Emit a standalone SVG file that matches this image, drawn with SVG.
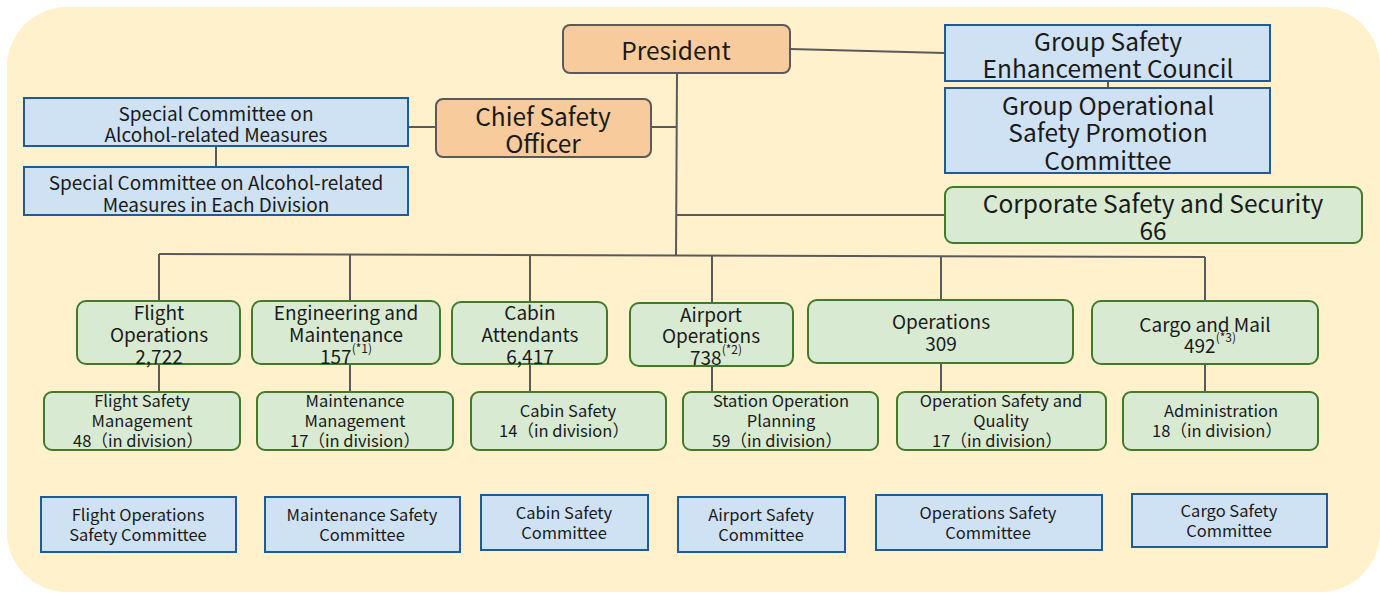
<svg xmlns="http://www.w3.org/2000/svg" width="1380" height="593" viewBox="0 0 1380 593">
<style>
text{font-family:"Noto Sans CJK JP","Noto Sans",sans-serif;fill:#1a1a1a;text-anchor:middle;dominant-baseline:central}
.or{fill:#f8cb9c;stroke:#5a5a5a;stroke-width:2}
.bl{fill:#cfe2f3;stroke:#1f5b99;stroke-width:2}
.gr{fill:#d9ead3;stroke:#44792a;stroke-width:2}
.big{font-size:24.5px}
.mid{font-size:19px}
.div{font-size:19px}
.sub{font-size:16.5px}
.com{font-size:16.5px}
.sup{font-size:12px}
#connectors line{stroke:#5a5a5a;stroke-width:2;fill:none}
</style>
<rect x="7" y="7" width="1373" height="585" rx="60" fill="#fff1cc"/>
<g id="connectors">
<line x1="790" y1="49" x2="945" y2="53"/>
<line x1="1108" y1="81" x2="1108" y2="88"/>
<line x1="677" y1="73" x2="676" y2="256"/>
<line x1="651" y1="127" x2="677" y2="127"/>
<line x1="408" y1="127" x2="436" y2="127"/>
<line x1="216" y1="146" x2="216" y2="167"/>
<line x1="676" y1="215" x2="945" y2="215"/>
<line x1="159" y1="254" x2="1205" y2="257"/>
<line x1="159" y1="254" x2="159" y2="301"/>
<line x1="350" y1="255" x2="350" y2="301"/>
<line x1="530" y1="255" x2="530" y2="302"/>
<line x1="712" y1="256" x2="712" y2="303"/>
<line x1="941" y1="256" x2="941" y2="300"/>
<line x1="1205" y1="257" x2="1205" y2="301"/>
<line x1="159" y1="364" x2="159" y2="392"/>
<line x1="350" y1="364" x2="350" y2="392"/>
<line x1="530" y1="364" x2="530" y2="392"/>
<line x1="712" y1="366" x2="712" y2="392"/>
<line x1="941" y1="363" x2="941" y2="392"/>
<line x1="1205" y1="364" x2="1205" y2="392"/>
</g>
<g id="president"><rect class="or" x="563" y="25" width="227" height="48" rx="7"/><text class="big" x="676" y="49">President</text></g>
<g id="cso"><rect class="or" x="436" y="99" width="215" height="58" rx="7"/><text class="big" x="543" y="115">Chief Safety</text><text class="big" x="543" y="142">Officer</text></g>
<g id="gsec"><rect class="bl" x="945" y="25" width="325" height="56"/><text class="big" x="1108" y="40">Group Safety</text><text class="big" x="1108" y="67">Enhancement Council</text></g>
<g id="gospc"><rect class="bl" x="945" y="88" width="325" height="85"/><text class="big" x="1108" y="104">Group Operational</text><text class="big" x="1108" y="131">Safety Promotion</text><text class="big" x="1108" y="159">Committee</text></g>
<g id="css"><rect class="gr" x="945" y="187" width="417" height="56" rx="8"/><text class="big" x="1153" y="202">Corporate Safety and Security</text><text class="big" x="1153" y="229">66</text></g>
<g id="alc"><rect class="bl" x="24" y="98" width="384" height="48"/><text class="mid" x="216" y="112">Special Committee on</text><text class="mid" x="216" y="133">Alcohol-related Measures</text></g>
<g id="alcdiv"><rect class="bl" x="24" y="167" width="384" height="48"/><text class="mid" x="216" y="181">Special Committee on Alcohol-related</text><text class="mid" x="216" y="203">Measures in Each Division</text></g>

<g id="flight"><rect class="gr" x="77" y="301" width="163" height="63" rx="9"/><text class="div" x="159" y="311">Flight</text><text class="div" x="159" y="333">Operations</text><text class="div" x="159" y="355">2,722</text></g>
<g id="eng"><rect class="gr" x="252" y="301" width="188" height="63" rx="9"/><text class="div" x="346" y="311">Engineering and</text><text class="div" x="346" y="333">Maintenance</text><text class="div" x="346" y="355">157<tspan class="sup" dy="-8">(*1)</tspan></text></g>
<g id="cabin"><rect class="gr" x="452" y="302" width="155" height="62" rx="9"/><text class="div" x="530" y="311">Cabin</text><text class="div" x="530" y="333">Attendants</text><text class="div" x="530" y="355">6,417</text></g>
<g id="airport"><rect class="gr" x="630" y="303" width="163" height="63" rx="9"/><text class="div" x="711" y="313">Airport</text><text class="div" x="711" y="334">Operations</text><text class="div" x="716" y="356">738<tspan class="sup" dy="-8">(*2)</tspan></text></g>
<g id="ops"><rect class="gr" x="808" y="300" width="265" height="63" rx="9"/><text class="div" x="941" y="320">Operations</text><text class="div" x="941" y="342">309</text></g>
<g id="cargo"><rect class="gr" x="1092" y="301" width="226" height="63" rx="9"/><text class="div" x="1205" y="323">Cargo and Mail</text><text class="div" x="1210" y="344">492<tspan class="sup" dy="-8">(*3)</tspan></text></g>

<g id="fsm"><rect class="gr" x="44" y="392" width="196" height="58" rx="8"/><text class="sub" x="142" y="400">Flight Safety</text><text class="sub" x="142" y="420">Management</text><text class="sub" x="138" y="440">48（in division）</text></g>
<g id="mm"><rect class="gr" x="257" y="392" width="196" height="58" rx="8"/><text class="sub" x="355" y="400">Maintenance</text><text class="sub" x="355" y="420">Management</text><text class="sub" x="355" y="440">17（in division）</text></g>
<g id="cs"><rect class="gr" x="471" y="392" width="195" height="58" rx="8"/><text class="sub" x="568" y="410">Cabin Safety</text><text class="sub" x="564" y="430">14（in division）</text></g>
<g id="sop"><rect class="gr" x="683" y="392" width="195" height="58" rx="8"/><text class="sub" x="781" y="400">Station Operation</text><text class="sub" x="781" y="420">Planning</text><text class="sub" x="777" y="440">59（in division）</text></g>
<g id="osq"><rect class="gr" x="897" y="392" width="209" height="58" rx="8"/><text class="sub" x="1001" y="400">Operation Safety and</text><text class="sub" x="1001" y="420">Quality</text><text class="sub" x="997" y="440">17（in division）</text></g>
<g id="adm"><rect class="gr" x="1123" y="392" width="195" height="58" rx="8"/><text class="sub" x="1221" y="410">Administration</text><text class="sub" x="1217" y="430">18（in division）</text></g>

<g id="fosc"><rect class="bl" x="41" y="497" width="195" height="55"/><text class="com" x="138" y="514">Flight Operations</text><text class="com" x="138" y="534">Safety Committee</text></g>
<g id="msc"><rect class="bl" x="265" y="497" width="195" height="55"/><text class="com" x="362" y="514">Maintenance Safety</text><text class="com" x="362" y="534">Committee</text></g>
<g id="csc"><rect class="bl" x="481" y="495" width="167" height="55"/><text class="com" x="564" y="512">Cabin Safety</text><text class="com" x="564" y="532">Committee</text></g>
<g id="asc"><rect class="bl" x="678" y="497" width="167" height="55"/><text class="com" x="761" y="514">Airport Safety</text><text class="com" x="761" y="534">Committee</text></g>
<g id="osc"><rect class="bl" x="876" y="495" width="226" height="55"/><text class="com" x="988" y="512">Operations Safety</text><text class="com" x="988" y="532">Committee</text></g>
<g id="cgsc"><rect class="bl" x="1132" y="494" width="195" height="53"/><text class="com" x="1229" y="510">Cargo Safety</text><text class="com" x="1229" y="530">Committee</text></g>
</svg>
